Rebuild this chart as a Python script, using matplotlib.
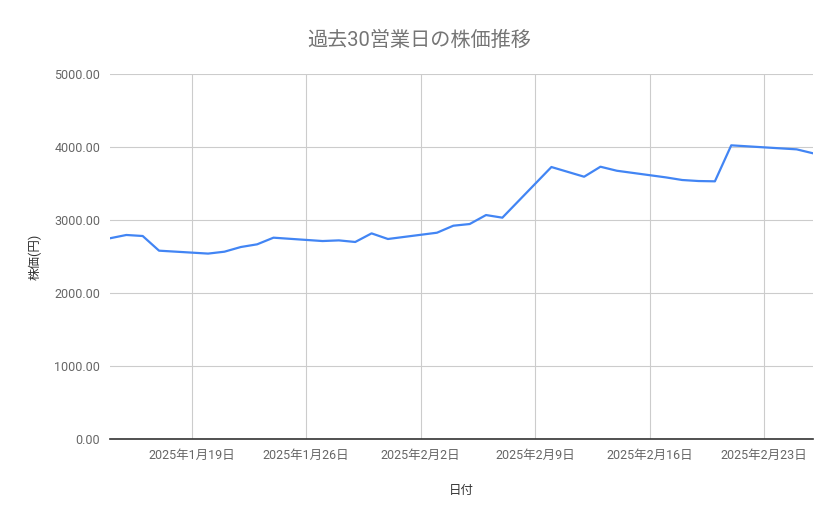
import matplotlib
matplotlib.use("Agg")
import matplotlib.dates as mdates
import numpy as np
import pandas as pd
from matplotlib import pyplot as plt
from matplotlib.ticker import FuncFormatter, MultipleLocator

plt.rcParams["font.family"] = ["Roboto", "Noto Sans CJK JP", "DejaVu Sans"]

# 30 business days (Japanese holidays 2/11 and 2/24 excluded)
dates = [
    "2025-01-14", "2025-01-15", "2025-01-16", "2025-01-17",
    "2025-01-20", "2025-01-21", "2025-01-22", "2025-01-23", "2025-01-24",
    "2025-01-27", "2025-01-28", "2025-01-29", "2025-01-30", "2025-01-31",
    "2025-02-03", "2025-02-04", "2025-02-05", "2025-02-06", "2025-02-07",
    "2025-02-10", "2025-02-12", "2025-02-13", "2025-02-14",
    "2025-02-17", "2025-02-18", "2025-02-19", "2025-02-20", "2025-02-21",
    "2025-02-25", "2025-02-26",
]
prices = [
    2750, 2795, 2781, 2580,
    2540, 2566, 2630, 2667, 2758,
    2712, 2721, 2699, 2817, 2740,
    2826, 2922, 2945, 3068, 3032,
    3726, 3593, 3730, 3675,
    3584, 3548, 3534, 3530, 4023,
    3968, 3914,
]

title = "過去30営業日の株価推移"
x_label = "日付"
y_label = "株価(円)"

x = pd.to_datetime(dates)
y = np.array(prices)

fig = plt.figure(figsize=(8.39, 5.19), dpi=100)
ax = fig.add_axes([0.1311, 0.1541, 0.8379, 0.7033])

ax.plot(x, y, color="#4285f4", linewidth=1.6, solid_joinstyle="round")

ax.set_xlim(x[0], x[-1])
ax.set_ylim(0, 5000)
ax.yaxis.set_major_locator(MultipleLocator(1000))
ax.yaxis.set_major_formatter(FuncFormatter(lambda v, _: f"{v:.2f}"))
ax.xaxis.set_major_locator(mdates.WeekdayLocator(byweekday=mdates.SU))
ax.xaxis.set_major_formatter(
    FuncFormatter(lambda v, _: (lambda d: f"{d.year}年{d.month}月{d.day}日")(mdates.num2date(v)))
)

ax.grid(True, color="#cccccc", linewidth=0.8)
ax.set_axisbelow(True)
for side in ["top", "right", "left"]:
    ax.spines[side].set_visible(False)
ax.spines["bottom"].set_color("#333333")
ax.spines["bottom"].set_linewidth(1.2)
ax.spines["bottom"].set_zorder(3)

ax.tick_params(axis="both", length=0, labelsize=9, labelcolor="#666666")
ax.tick_params(axis="y", pad=7)
ax.tick_params(axis="x", pad=7)

fig.text(0.5, 1 - 40 / 519, title, ha="center", va="center", fontsize=14.5, color="#757575")
ax.set_xlabel(x_label, fontsize=9, color="#333333", labelpad=16)
ax.set_ylabel(y_label, fontsize=9, color="#333333", labelpad=9)

fig.savefig("out.png", dpi=100)
